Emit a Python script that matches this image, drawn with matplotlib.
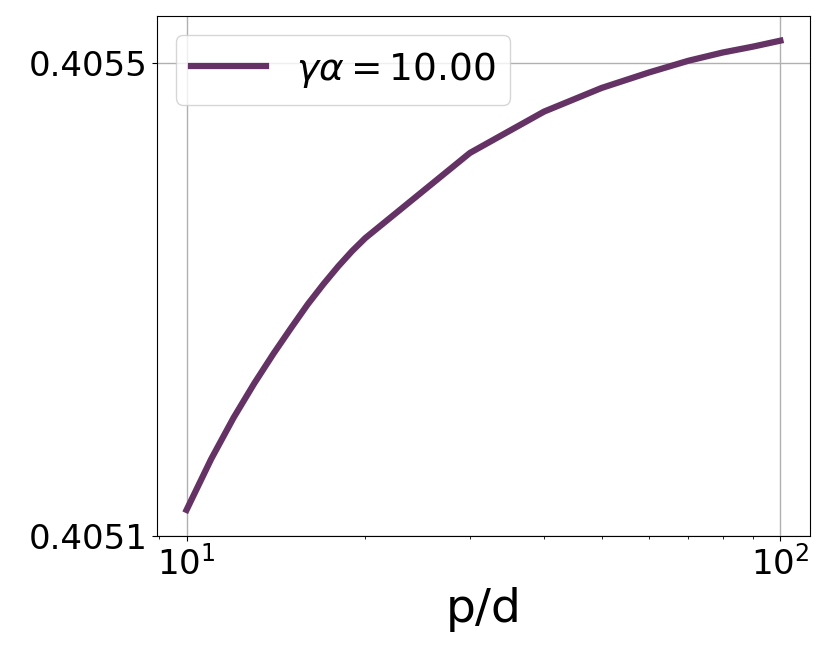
import numpy as np
import matplotlib
matplotlib.use('Agg')
import matplotlib.pyplot as plt

# p/d values and the measured curve
p_over_d = [10, 11, 12, 13, 14, 15, 16, 17, 18, 19, 20,
            30, 40, 50, 60, 70, 80, 90, 100]
values = [0.405122, 0.405165, 0.405200, 0.405229, 0.405254, 0.405276,
          0.405296, 0.405313, 0.405328, 0.405341, 0.405352,
          0.405424, 0.405459, 0.405479, 0.405492, 0.405502, 0.405509,
          0.405514, 0.405519]
label = r'$\gamma\alpha = 10.00$'

fig = plt.figure(figsize=(8.3, 6.6), dpi=100)
ax = fig.add_axes([0.189, 0.188, 0.787, 0.788])

ax.plot(p_over_d, values, color='#643264', lw=4.5, label=label)
ax.set_xscale('log')
ax.set_ylim(0.4051, 0.40554)
ax.set_yticks([0.4051, 0.4055])
ax.set_yticklabels(['0.4051', '0.4055'])
ax.grid(True, color='#b0b0b0', lw=1)
ax.tick_params(labelsize=24.5)
ax.set_xlabel('p/d', fontsize=34)
ax.legend(loc='upper left', fontsize=27)

plt.savefig('out.png', dpi=100)
